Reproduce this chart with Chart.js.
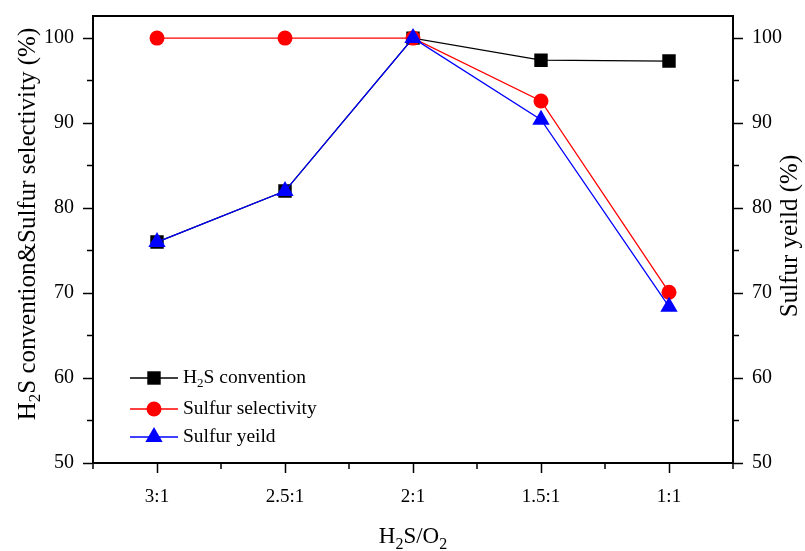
<!DOCTYPE html>
<html>
<head>
<meta charset="utf-8">
<script src="https://cdn.jsdelivr.net/npm/chart.js@4.4.1/dist/chart.umd.min.js"></script>
<style>
  html, body { margin: 0; padding: 0; background: #fff; }
  #wrap { width: 805px; height: 551px; }
</style>
</head>
<body>
<div id="wrap"><canvas id="ratioChart" width="805" height="551"></canvas></div>
<script>
// data
const ratios = ['3:1', '2.5:1', '2:1', '1.5:1', '1:1'];
const conversion = [76.0, 82.0, 100, 97.4, 97.3];
const selectivity = [100, 100, 100, 92.6, 70.1];
const yieldPct = [76.0, 82.0, 100, 90.4, 68.4];
const yTicks = [50, 60, 70, 80, 90, 100];
const yMinor = [55, 65, 75, 85, 95];

const serif = "'Liberation Serif', 'Times New Roman', serif";
Chart.defaults.font.family = serif;
Chart.defaults.color = '#000';

// text with subscript parts, centred on (x, y)
function richText(ctx, parts, x, y, rot, size) {
  const big = size + 'px ' + serif;
  const small = Math.round(size * 0.68) + 'px ' + serif;
  ctx.save();
  ctx.translate(x, y);
  ctx.rotate(rot);
  let total = 0;
  parts.forEach(p => { ctx.font = p.sub ? small : big; total += ctx.measureText(p.t).width; });
  let cx = -total / 2;
  ctx.textBaseline = 'middle';
  ctx.fillStyle = '#000';
  parts.forEach(p => {
    ctx.font = p.sub ? small : big;
    ctx.fillText(p.t, cx, p.sub ? size * 0.32 : 0);
    cx += ctx.measureText(p.t).width;
  });
  ctx.restore();
}

const extras = {
  id: 'extras',
  afterDraw(chart) {
    const { ctx, chartArea: a, scales } = chart;
    ctx.save();
    ctx.strokeStyle = '#000';

    // top frame line
    ctx.lineWidth = 2;
    ctx.beginPath();
    ctx.moveTo(a.left - 1, a.top);
    ctx.lineTo(a.right + 1, a.top);
    ctx.stroke();

    // minor ticks
    ctx.lineWidth = 1.5;
    ctx.beginPath();
    yMinor.forEach(v => {
      const py = scales.y.getPixelForValue(v);
      ctx.moveTo(a.left - 6, py); ctx.lineTo(a.left, py);
      ctx.moveTo(a.right, py); ctx.lineTo(a.right + 6, py);
    });
    for (let i = 0; i <= ratios.length; i++) {
      const px = scales.x.getPixelForValue(i - 0.5);
      ctx.moveTo(px, a.bottom); ctx.lineTo(px, a.bottom + 6);
    }
    ctx.stroke();

    // axis titles
    richText(ctx, [{ t: 'H' }, { t: '2', sub: true }, { t: 'S convention&Sulfur selectivity (%)' }],
      28, 224, -Math.PI / 2, 25);
    richText(ctx, [{ t: 'Sulfur yeild (%)' }], 790, 236, -Math.PI / 2, 25);
    richText(ctx, [{ t: 'H' }, { t: '2', sub: true }, { t: 'S/O' }, { t: '2', sub: true }],
      (a.left + a.right) / 2, 537, 0, 23);

    // legend inside the plot
    const rows = [
      { ds: chart.data.datasets[0], y: 378, parts: [{ t: 'H' }, { t: '2', sub: true }, { t: 'S convention' }] },
      { ds: chart.data.datasets[1], y: 409, parts: [{ t: 'Sulfur selectivity' }] },
      { ds: chart.data.datasets[2], y: 437, parts: [{ t: 'Sulfur yeild' }] }
    ];
    rows.forEach(r => {
      ctx.strokeStyle = r.ds.borderColor;
      ctx.fillStyle = r.ds.backgroundColor;
      ctx.lineWidth = r.ds.borderWidth;
      ctx.beginPath();
      ctx.moveTo(130, r.y); ctx.lineTo(178, r.y);
      ctx.stroke();
      Chart.helpers.drawPoint(ctx, { pointStyle: r.ds.pointStyle, radius: r.ds.pointRadius, borderWidth: 0, rotation: 0 }, 154, r.y);
      ctx.save();
      ctx.textAlign = 'left';
      let cx = 183;
      r.parts.forEach(p => {
        ctx.font = (p.sub ? 13 : 19.5) + 'px ' + serif;
        ctx.fillStyle = '#000';
        ctx.textBaseline = 'middle';
        ctx.fillText(p.t, cx, p.sub ? r.y + 6 : r.y);
        cx += ctx.measureText(p.t).width;
      });
      ctx.restore();
    });
    ctx.restore();
  }
};

const tickGrid = { drawOnChartArea: false, tickLength: 10, tickWidth: 1.5, tickColor: '#000' };
const axisBorder = { color: '#000', width: 2 };

// fixed axis sizes so the plot frame lands where the figure has it
function fitY(width) {
  return s => {
    s.width = width;
    s.paddingTop = 0;
    s.paddingBottom = 0;
  };
}

new Chart(document.getElementById('ratioChart'), {
  type: 'line',
  data: {
    labels: ratios,
    datasets: [
      {
        label: 'H2S convention', data: conversion, yAxisID: 'y', order: 3,
        borderColor: '#000', backgroundColor: '#000', borderWidth: 1.3,
        pointStyle: 'rect', pointRadius: 9.5, pointBorderWidth: 0
      },
      {
        label: 'Sulfur selectivity', data: selectivity, yAxisID: 'y', order: 2,
        borderColor: '#ff0000', backgroundColor: '#ff0000', borderWidth: 1.3,
        pointStyle: 'circle', pointRadius: 7.5, pointBorderWidth: 0
      },
      {
        label: 'Sulfur yeild', data: yieldPct, yAxisID: 'y1', order: 1,
        borderColor: '#0000ff', backgroundColor: '#0000ff', borderWidth: 1.3,
        pointStyle: 'triangle', pointRadius: 10, pointBorderWidth: 0
      }
    ]
  },
  options: {
    responsive: false,
    animation: false,
    layout: { padding: { top: 16 } },
    plugins: { legend: { display: false }, tooltip: { enabled: false } },
    scales: {
      x: {
        type: 'category',
        offset: true,
        grid: Object.assign({ offset: false }, tickGrid),
        border: axisBorder,
        ticks: { font: { size: 19 }, padding: 13, maxRotation: 0 },
        afterFit: s => { s.height = 88; s.paddingLeft = 0; s.paddingRight = 0; }
      },
      y: {
        position: 'left', min: 50, max: 102.6,
        afterBuildTicks: s => { s.ticks = yTicks.map(v => ({ value: v })); },
        grid: tickGrid,
        border: axisBorder,
        ticks: { font: { size: 20 }, padding: 9 },
        afterFit: fitY(93)
      },
      y1: {
        position: 'right', min: 50, max: 102.6,
        afterBuildTicks: s => { s.ticks = yTicks.map(v => ({ value: v })); },
        grid: tickGrid,
        border: axisBorder,
        ticks: { font: { size: 20 }, padding: 9 },
        afterFit: fitY(72)
      }
    }
  },
  plugins: [extras]
});
</script>
</body>
</html>
